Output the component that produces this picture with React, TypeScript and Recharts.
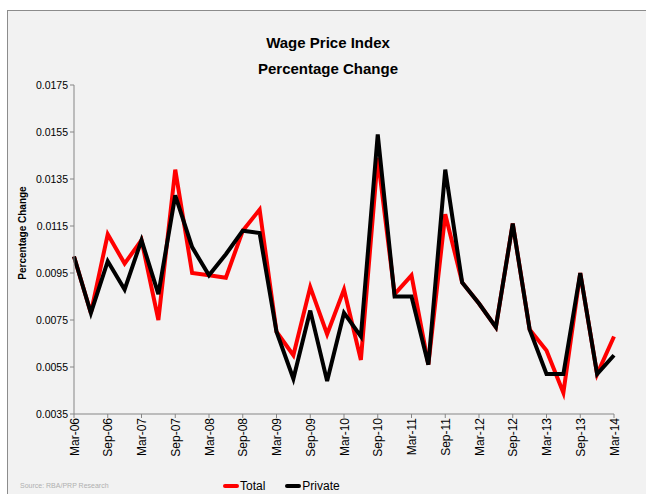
import React from 'react';
import { LineChart, Line, XAxis, YAxis } from 'recharts';

// ─── Data ─────────────────────────────────────────────────────────────────────

const QUARTERS = [
  'Mar-06', 'Jun-06', 'Sep-06', 'Dec-06',
  'Mar-07', 'Jun-07', 'Sep-07', 'Dec-07',
  'Mar-08', 'Jun-08', 'Sep-08', 'Dec-08',
  'Mar-09', 'Jun-09', 'Sep-09', 'Dec-09',
  'Mar-10', 'Jun-10', 'Sep-10', 'Dec-10',
  'Mar-11', 'Jun-11', 'Sep-11', 'Dec-11',
  'Mar-12', 'Jun-12', 'Sep-12', 'Dec-12',
  'Mar-13', 'Jun-13', 'Sep-13', 'Dec-13',
  'Mar-14',
];

const TOTAL = [
  0.0102, 0.0078, 0.01115, 0.0099,
  0.0109, 0.0075, 0.0139, 0.0095,
  0.0094, 0.0093, 0.0113, 0.0122,
  0.0070, 0.0060, 0.0089, 0.0069,
  0.0088, 0.0058, 0.0144, 0.0086,
  0.0094, 0.0056, 0.0120, 0.0091,
  0.0082, 0.0072, 0.0116, 0.0071,
  0.0062, 0.0044, 0.0095, 0.0052,
  0.0068,
];

const PRIVATE = [
  0.0102, 0.0078, 0.0100, 0.0088,
  0.0109, 0.0086, 0.0128, 0.0106,
  0.0094, 0.0103, 0.0113, 0.0112,
  0.0070, 0.0050, 0.0079, 0.0049,
  0.0078, 0.0068, 0.0154, 0.0085,
  0.0085, 0.0056, 0.0139, 0.0091,
  0.0082, 0.0072, 0.0116, 0.0071,
  0.0052, 0.0052, 0.0095, 0.0052,
  0.0060,
];

const Y_TICKS = [0.0035, 0.0055, 0.0075, 0.0095, 0.0115, 0.0135, 0.0155, 0.0175];

const chartData = QUARTERS.map((q, i) => ({
  quarter: q,
  Total: TOTAL[i],
  Private: PRIVATE[i],
}));

const SERIES = [
  { key: 'Total', colour: '#ff0000' },
  { key: 'Private', colour: '#000000' },
];

const FONT = "'Liberation Sans', Arial, sans-serif";
const AXIS_GREY = '#868686';

// ─── Component ────────────────────────────────────────────────────────────────

export default function App() {
  return (
    <div style={{ position: 'absolute', left: 0, top: 0, width: 646, height: 494, background: '#fff', overflow: 'hidden' }}>
      <div
        style={{
          position: 'absolute', left: 7, top: 10, width: 660, height: 500,
          background: '#f2f2f2', border: '1px solid #8c8c8c',
        }}
      />
      <div style={{ position: 'absolute', left: 0, top: 30, width: 656, textAlign: 'center', fontFamily: FONT, fontWeight: 'bold', fontSize: 15, lineHeight: '26px', color: '#000' }}>
        Wage Price Index
        <br />
        Percentage Change
      </div>
      <div
        style={{
          position: 'absolute', left: 22, top: 233, transform: 'translate(-50%, -50%) rotate(-90deg)',
          fontFamily: FONT, fontWeight: 'bold', fontSize: 10, whiteSpace: 'nowrap', color: '#000',
        }}
      >
        Percentage Change
      </div>
      <div style={{ position: 'absolute', left: 20, top: 482, fontFamily: FONT, fontSize: 7, color: '#b0b0b0' }}>
        Source: RBA/PRP Research
      </div>

      {/* legend */}
      <div style={{ position: 'absolute', left: 223, top: 479, display: 'flex', gap: 20, fontFamily: FONT, fontSize: 12 }}>
        {SERIES.map((s) => (
          <div key={s.key} style={{ display: 'flex', alignItems: 'center' }}>
            <span style={{ display: 'inline-block', width: 16, height: 4, borderRadius: 2, background: s.colour, marginRight: 1 }} />
            <span style={{ color: '#000' }}>{s.key}</span>
          </div>
        ))}
      </div>

      <div style={{ position: 'absolute', left: 0, top: 0 }}>
        <LineChart width={646} height={494} data={chartData} margin={{ top: 85, right: 32, left: 24, bottom: 0 }}>
          <XAxis
            dataKey="quarter"
            interval={1}
            stroke={AXIS_GREY}
            tickSize={4}
            tick={{ fontSize: 12, fill: '#000', fontFamily: FONT, angle: -90, textAnchor: 'end', dx: -4, dy: -2 } as any}
            height={80}
          />
          <YAxis
            domain={[0.0035, 0.0175]}
            ticks={Y_TICKS}
            stroke={AXIS_GREY}
            tickSize={4}
            width={50}
            tick={{ fontSize: 10.5, fill: '#000', fontFamily: FONT }}
            tickFormatter={(v: number) => v.toFixed(4)}
          />
          {SERIES.map((s) => (
            <Line
              key={s.key}
              dataKey={s.key}
              stroke={s.colour}
              strokeWidth={4}
              dot={false}
              isAnimationActive={false}
              strokeLinejoin="miter"
            />
          ))}
        </LineChart>
      </div>
    </div>
  );
}
